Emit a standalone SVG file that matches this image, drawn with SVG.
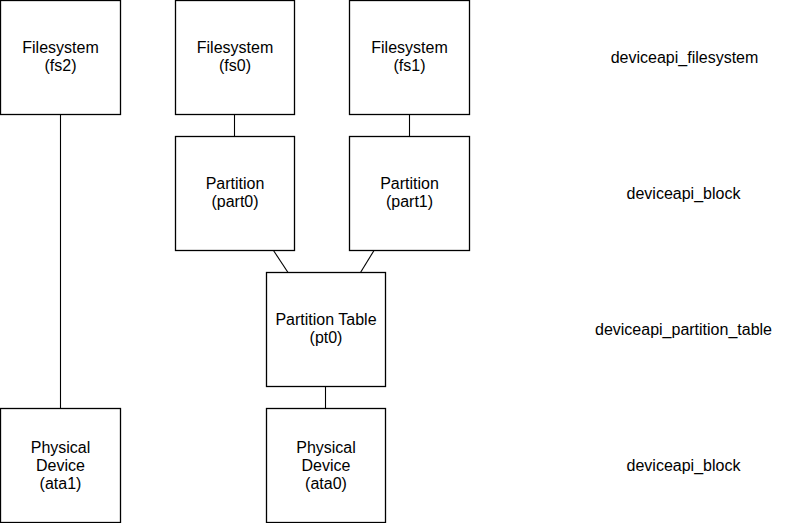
<svg xmlns="http://www.w3.org/2000/svg" width="795" height="523" viewBox="0 0 795 523">
<style>
.box{fill:#fff;stroke:#000;stroke-width:1.3}
.con{stroke:#000;stroke-width:1.1;fill:none}
text{font-family:"Liberation Sans",Arial,sans-serif;font-size:16px;fill:#000;text-anchor:middle}
</style>
<rect width="795" height="523" fill="#fff"/>
<g id="connectors">
<line class="con" x1="60.5" y1="114.5" x2="60.5" y2="408.5"/>
<line class="con" x1="234.5" y1="114.5" x2="234.5" y2="136.5"/>
<line class="con" x1="409.5" y1="114.5" x2="409.5" y2="136.5"/>
<line class="con" x1="273.5" y1="250.5" x2="288" y2="272.5"/>
<line class="con" x1="374" y1="250.5" x2="360.5" y2="272.5"/>
<line class="con" x1="325.5" y1="386.5" x2="325.5" y2="408.5"/>
</g>
<g id="fs2"><rect class="box" x="0.5" y="0.5" width="120" height="114"/><text x="60.5" y="53">Filesystem</text><text x="60.5" y="71">(fs2)</text></g>
<g id="fs0"><rect class="box" x="175.5" y="0.5" width="119" height="114"/><text x="235" y="53">Filesystem</text><text x="235" y="71">(fs0)</text></g>
<g id="fs1"><rect class="box" x="349.5" y="0.5" width="120" height="114"/><text x="409.5" y="53">Filesystem</text><text x="409.5" y="71">(fs1)</text></g>
<g id="part0"><rect class="box" x="175.5" y="136.5" width="119" height="114"/><text x="235" y="189">Partition</text><text x="235" y="207">(part0)</text></g>
<g id="part1"><rect class="box" x="349.5" y="136.5" width="120" height="114"/><text x="409.5" y="189">Partition</text><text x="409.5" y="207">(part1)</text></g>
<g id="pt0"><rect class="box" x="266.5" y="272.5" width="119" height="114"/><text x="326" y="325">Partition Table</text><text x="326" y="343">(pt0)</text></g>
<g id="ata1"><rect class="box" x="0.5" y="408.5" width="120" height="114"/><text x="60.5" y="453">Physical</text><text x="60.5" y="471">Device</text><text x="60.5" y="489">(ata1)</text></g>
<g id="ata0"><rect class="box" x="266.5" y="408.5" width="119" height="114"/><text x="326" y="453">Physical</text><text x="326" y="471">Device</text><text x="326" y="489">(ata0)</text></g>
<g id="labels">
<text x="684.5" y="63">deviceapi_filesystem</text>
<text x="683.5" y="199">deviceapi_block</text>
<text x="683.5" y="335">deviceapi_partition_table</text>
<text x="683.5" y="471">deviceapi_block</text>
</g>
</svg>
